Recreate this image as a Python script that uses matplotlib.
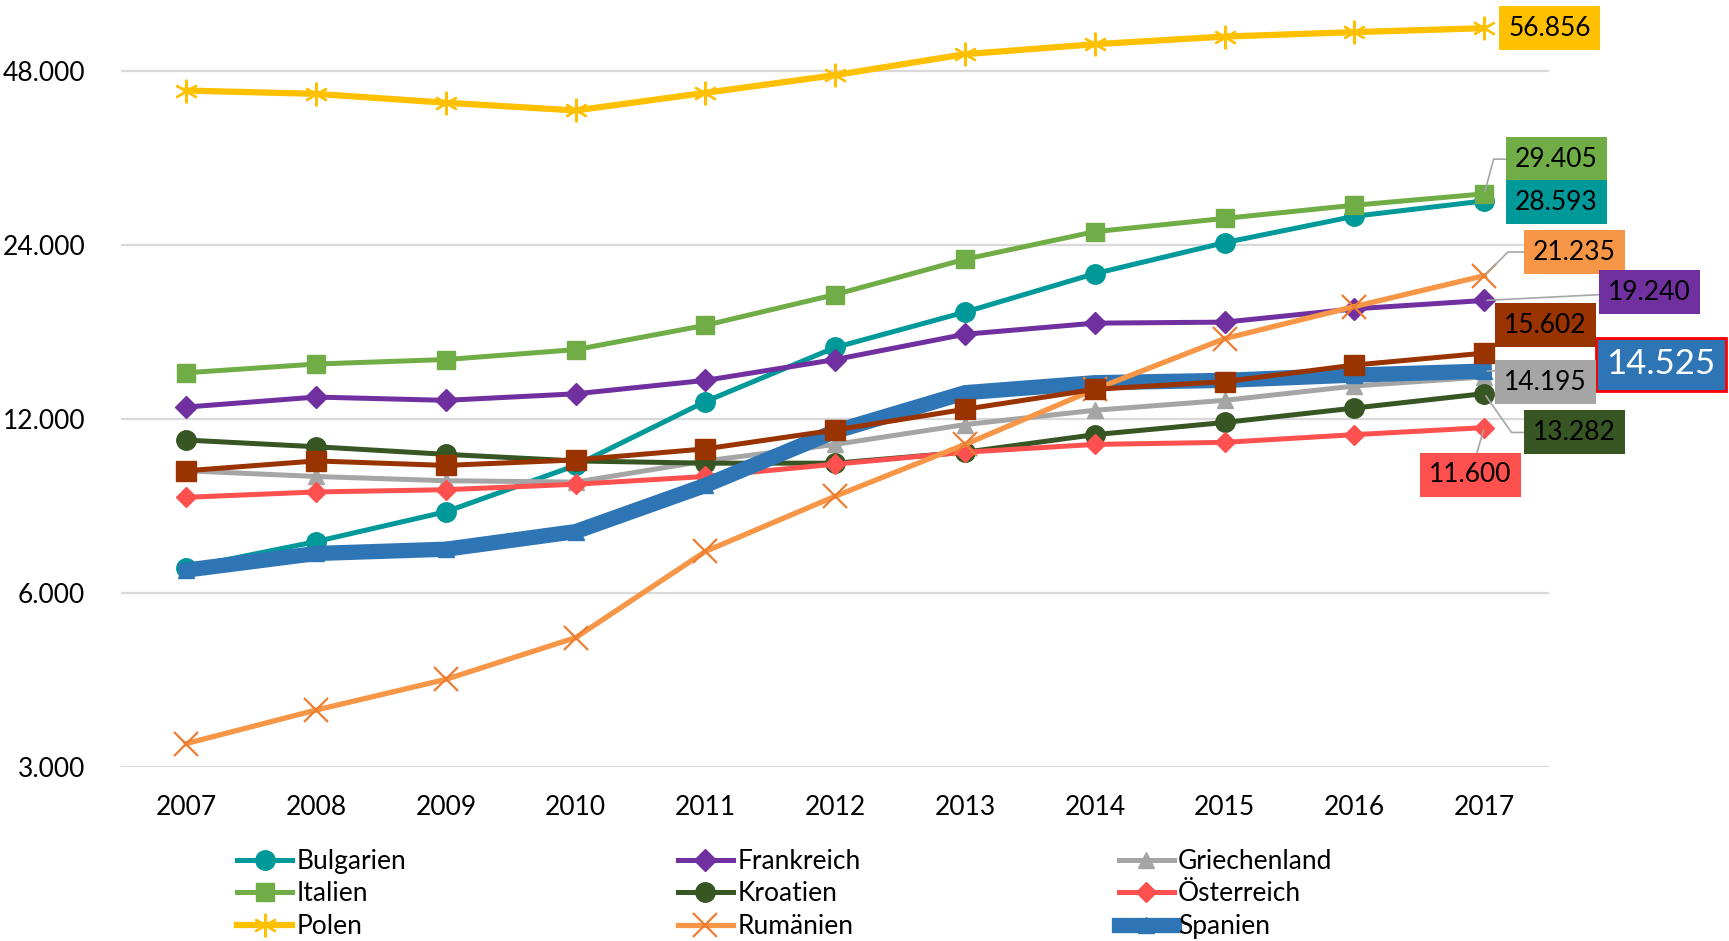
import numpy as np
import matplotlib
matplotlib.use("Agg")
import matplotlib.pyplot as plt
from matplotlib.ticker import FixedLocator, FuncFormatter, NullLocator

plt.rcParams['font.family'] = ['Lato', 'DejaVu Sans']

years = [2007, 2008, 2009, 2010, 2011, 2012, 2013, 2014, 2015, 2016, 2017]

bulgarien = [6640, 7370, 8300, 9980, 12870, 15960, 18370, 21410, 24220, 26900, 28593]
frankreich = [12590, 13100, 12930, 13270, 14000, 15210, 16820, 17580, 17650, 18610, 19240]
griechenland = [9770, 9550, 9390, 9340, 10160, 10850, 11740, 12430, 12930, 13690, 14195]
italien = [14430, 14940, 15210, 15820, 17430, 19700, 22670, 25300, 26670, 28110, 29405]
kroatien = [11040, 10750, 10430, 10160, 10070, 10070, 10520, 11280, 11840, 12540, 13282]
oesterreich = [8790, 8980, 9060, 9260, 9550, 10030, 10520, 10850, 10940, 11280, 11600]
polen = [44360, 43780, 42260, 40980, 43960, 47170, 51270, 53340, 54990, 55970, 56856]
spanien = [6580, 7030, 7150, 7670, 9220, 11430, 13330, 13870, 14000, 14300, 14525]
rumaenien = [3300, 3770, 4260, 5030, 7090, 8830, 10850, 13510, 16530, 18780, 21235]
# Reihe ohne Legendeneintrag (braune Quadrate)
ohne_legende = [9770, 10160, 9980, 10200, 10660, 11490, 12480, 13510, 13930, 14880, 15602]

y_ticks = [3000, 6000, 12000, 24000, 48000]


def de_format(v, pos=None):
    return "{:,.0f}".format(v).replace(",", ".")


fig = plt.figure(figsize=(17.29, 9.41), dpi=100)
ax = fig.add_axes([0.0702, 0.1844, 0.8258, 0.8156])
x = np.arange(len(years))

# name, data, color, marker, markersize, linewidth, marker edge color
series = [
    ("Bulgarien", bulgarien, "#009999", "o", 14, 3.6, None),
    ("Frankreich", frankreich, "#7030A0", "D", 11, 3.6, None),
    ("Griechenland", griechenland, "#A5A5A5", "^", 11, 3.6, None),
    ("Italien", italien, "#70AD47", "s", 13, 3.6, None),
    ("Kroatien", kroatien, "#375623", "o", 14, 3.6, None),
    ("Österreich", oesterreich, "#FF5050", "D", 10, 3.6, None),
    ("Polen", polen, "#FFC000", "x", 17, 4.5, "#FFC000"),
    ("Spanien", spanien, "#2E75B6", "^", 11, 11, None),
    ("Rumänien", rumaenien, "#F79646", "x", 17, 3.8, "#ED7D31"),
    (None, ohne_legende, "#993300", "s", 14, 3.6, None),
]

handles = {}
for name, vals, col, mk, ms, lw, mec in series:
    if mk == "x":
        # star-like marker for Polen, cross for Rumänien
        marker = (6, 2, 0) if name == "Polen" else "x"
        ln, = ax.plot(x, vals, color=col, lw=lw, marker=marker, ms=ms,
                      mec=mec, mew=1.6, label=name, solid_joinstyle="round")
    else:
        ln, = ax.plot(x, vals, color=col, lw=lw, marker=mk, ms=ms,
                      mec=col, label=name, solid_joinstyle="round")
    if name:
        handles[name] = ln

ax.set_yscale("log", base=2)
ax.set_ylim(3000, 63600)
ax.set_xlim(-0.5, len(years) - 0.5)
ax.yaxis.set_major_locator(FixedLocator(y_ticks))
ax.yaxis.set_minor_locator(NullLocator())
ax.yaxis.set_major_formatter(FuncFormatter(de_format))
ax.set_xticks(x)
ax.set_xticklabels([str(y) for y in years])
ax.tick_params(axis="both", length=0, labelsize=19)
ax.tick_params(axis="y", pad=26)
ax.tick_params(axis="x", pad=20)
ax.grid(axis="y", color="#D9D9D9", lw=1.6)
ax.set_axisbelow(True)
for s in ax.spines.values():
    s.set_visible(False)

# value labels at 2017
last = len(years) - 1
lead = dict(arrowstyle="-", color="#A6A6A6", lw=1.2, shrinkA=0, shrinkB=2)
labels = [
    (polen, "#FFC000", (47, 0), None, "black"),
    (italien, "#70AD47", (52, 25), "angle,angleA=0,angleB=75,rad=0", "black"),
    (bulgarien, "#009999", (52, -1), None, "black"),
    (rumaenien, "#F79646", (65, 17), "angle,angleA=0,angleB=45,rad=0", "black"),
    (frankreich, "#7030A0", (119, 6), "arc3", "black"),
    (ohne_legende, "#993300", (44, 20), None, "black"),
    (griechenland, "#A5A5A5", (44, -4), None, "black"),
    (kroatien, "#375623", (65, -28), "angle,angleA=0,angleB=-55,rad=0", "black"),
    (oesterreich, "#FF5050", (-10, -34), "arc3", "black"),
]
for vals, col, off, conn, tc in labels:
    kw = {}
    if conn:
        kw["arrowprops"] = dict(lead, connectionstyle=conn)
    ax.annotate(de_format(vals[last]), xy=(last, vals[last]), xytext=off,
                textcoords="offset points", ha="center", va="center",
                fontsize=19, color=tc, zorder=5,
                bbox=dict(boxstyle="square,pad=0.36", fc=col, ec="none"), **kw)

ax.annotate(de_format(spanien[last]), xy=(last, spanien[last]), xytext=(127, 5),
            textcoords="offset points", ha="center", va="center",
            fontsize=25, color="white", zorder=4,
            bbox=dict(boxstyle="square,pad=0.3", fc="#2E75B6", ec="#FF0000", lw=2),
            arrowprops=dict(lead, connectionstyle="arc3"), annotation_clip=False)

legend_cols = [["Bulgarien", "Italien", "Polen"],
               ["Frankreich", "Kroatien", "Rumänien"],
               ["Griechenland", "Österreich", "Spanien"]]
for i, names in enumerate(legend_cols):
    fig.legend([handles[n] for n in names], names, ncol=1,
               loc="upper left", bbox_to_anchor=(0.137 + i * 0.255, 0.098),
               frameon=False, fontsize=19, handlelength=2.1,
               handletextpad=0.15, labelspacing=0.29,
               borderaxespad=0, borderpad=0)

fig.savefig("out.png", dpi=100)
